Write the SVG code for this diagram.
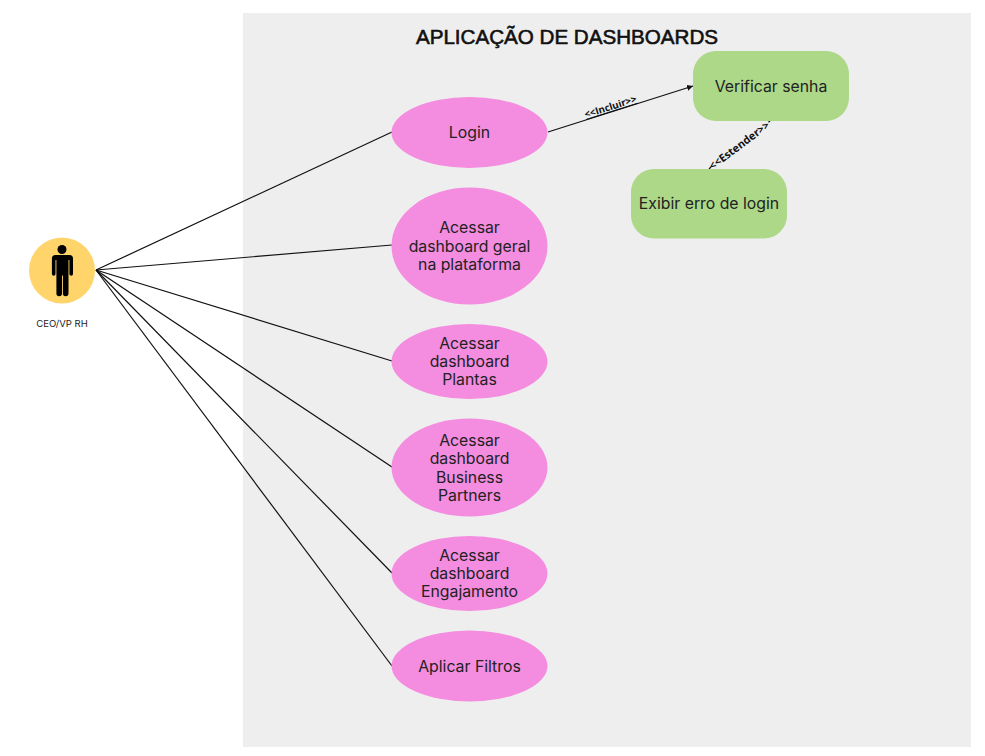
<svg xmlns="http://www.w3.org/2000/svg" width="985" height="756" viewBox="0 0 985 756">
<style>
.t{font-family:"Inter","Liberation Sans",sans-serif;font-size:15.800px;fill:#222;text-anchor:middle}
.e{fill:#f48ce0}
.g{fill:#acd888}
.c{stroke:#111;stroke-width:1.200;fill:none}
.s{font-family:"Open Sans","Liberation Sans",sans-serif;fill:#111;text-anchor:middle;font-weight:700}
</style>
<defs><marker id="a" markerWidth="6" markerHeight="6" refX="5" refY="3" orient="auto"><path d="M0,0.500L5,3L0,5.500Z" fill="#111"/></marker></defs>
<rect width="985" height="756" fill="#fff"/>
<rect x="243" y="13" width="728" height="734" fill="#eeeeee"/>
<text x="567" y="44" font-family="'Liberation Sans',Arial,sans-serif" font-size="20.600" stroke="#111" stroke-width=".6" fill="#111" text-anchor="middle">APLICAÇÃO DE DASHBOARDS</text>
<g id="connectors">
<line class="c" x1="96" y1="270" x2="392" y2="132"/>
<line class="c" x1="96" y1="270" x2="392" y2="245"/>
<line class="c" x1="96" y1="270" x2="392" y2="361"/>
<line class="c" x1="96" y1="270" x2="392" y2="467"/>
<line class="c" x1="96" y1="270" x2="392" y2="573"/>
<line class="c" x1="96" y1="270" x2="392" y2="666"/>
<line class="c" x1="548" y1="132" x2="693" y2="86" marker-end="url(#a)"/>
<text class="s" font-size="9.800" transform="translate(611.500 110) rotate(-17.500)" text-decoration="underline">&lt;&lt;Incluir&gt;&gt;</text>
<line class="c" x1="770" y1="121" x2="767" y2="123.300" stroke-dasharray="2 2"/>
<line class="c" x1="711" y1="167" x2="709" y2="169"/>
<text class="s" font-size="10.800" transform="translate(741.500 148.500) rotate(-37)">&lt;&lt;Estender&gt;&gt;</text>
</g>
<g id="actor">
<circle cx="62" cy="270.500" r="33" fill="#ffd46b"/>
<circle cx="62" cy="249.500" r="4.500" fill="#000"/>
<path d="M54.500 255h15a3.500 3.500 0 0 1 3.500 3.500v15.500a1.800 1.800 0 0 1-3.600 0v-14h-.9v33.500a2.800 2.800 0 0 1-5.600 0v-18h-.9v18a2.800 2.800 0 0 1-5.600 0v-33.500h-.9v14a1.800 1.800 0 0 1-3.600 0v-15.500a3.500 3.500 0 0 1 3.500-3.500z" fill="#000"/>
<text x="62" y="327" font-family="Inter,'Liberation Sans',sans-serif" font-size="9.500" fill="#222" text-anchor="middle">CEO/VP RH</text>
</g>
<g id="login"><ellipse class="e" cx="469.500" cy="132.500" rx="78" ry="35.500"/><text class="t" x="469.500" y="138">Login</text></g>
<g id="geral"><ellipse class="e" cx="469.500" cy="246" rx="78" ry="58.500"/><text class="t" x="469.500" y="233">Acessar</text><text class="t" x="469.500" y="251.500">dashboard geral</text><text class="t" x="469.500" y="270">na plataforma</text></g>
<g id="plantas"><ellipse class="e" cx="469.500" cy="361.500" rx="78" ry="37.500"/><text class="t" x="469.500" y="349">Acessar</text><text class="t" x="469.500" y="367">dashboard</text><text class="t" x="469.500" y="385">Plantas</text></g>
<g id="bp"><ellipse class="e" cx="469.500" cy="467.500" rx="78" ry="49"/><text class="t" x="469.500" y="445.500">Acessar</text><text class="t" x="469.500" y="464">dashboard</text><text class="t" x="469.500" y="482.500">Business</text><text class="t" x="469.500" y="500.500">Partners</text></g>
<g id="engajamento"><ellipse class="e" cx="469.500" cy="573.500" rx="78" ry="37.500"/><text class="t" x="469.500" y="561">Acessar</text><text class="t" x="469.500" y="579">dashboard</text><text class="t" x="469.500" y="597">Engajamento</text></g>
<g id="filtros"><ellipse class="e" cx="469.500" cy="666" rx="78" ry="35.500"/><text class="t" x="469.500" y="671.500">Aplicar Filtros</text></g>
<g id="senha"><rect class="g" x="693" y="51" width="156" height="70" rx="23"/><text class="t" x="771" y="91.500">Verificar senha</text></g>
<g id="erro"><rect class="g" x="631" y="169" width="156" height="69.500" rx="23"/><text class="t" x="709" y="209">Exibir erro de login</text></g>
</svg>
